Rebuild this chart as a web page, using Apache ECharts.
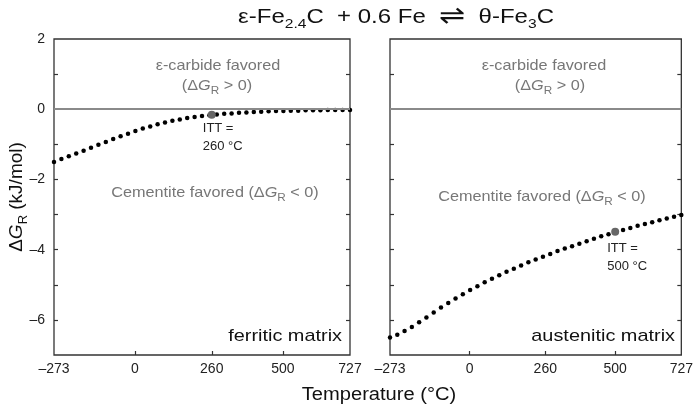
<!DOCTYPE html>
<html><head><meta charset="utf-8">
<script src="https://cdn.jsdelivr.net/npm/echarts@6/dist/echarts.min.js"></script>
<style>html,body{margin:0;padding:0;background:#fff}#c{width:696px;height:411px}</style>
</head><body><div id="c"></div>
<script>
// Temperature (°C) of each plotted point
const temps = [-273,-248,-223,-198,-173,-148,-123,-98,-73,-48,-23,2,27,52,77,102,127,152,177,202,227,252,277,302,327,352,377,402,427,452,477,502,527,552,577,602,627,652,677,702,727];
// ΔG_R (kJ/mol), ferritic matrix
const ferriticG = [-1.50,-1.42,-1.34,-1.26,-1.18,-1.10,-1.01,-0.93,-0.85,-0.77,-0.70,-0.62,-0.55,-0.49,-0.43,-0.38,-0.33,-0.29,-0.25,-0.22,-0.19,-0.17,-0.15,-0.13,-0.12,-0.10,-0.09,-0.08,-0.07,-0.06,-0.05,-0.05,-0.04,-0.04,-0.03,-0.03,-0.03,-0.02,-0.02,-0.02,-0.02];
// ΔG_R (kJ/mol), austenitic matrix
const austeniticG = [-6.50,-6.42,-6.32,-6.20,-6.07,-5.93,-5.79,-5.65,-5.52,-5.39,-5.27,-5.15,-5.04,-4.93,-4.83,-4.73,-4.63,-4.54,-4.45,-4.36,-4.28,-4.20,-4.12,-4.04,-3.97,-3.90,-3.83,-3.76,-3.69,-3.62,-3.56,-3.50,-3.44,-3.38,-3.32,-3.27,-3.22,-3.16,-3.11,-3.06,-3.01];
// ITT points
const ittT = [260, 500];
const ittG = [-0.16, -3.49];
// axes
const xTickLabels = [-273, 0, 260, 500, 727];
const xTicks = [0, 260, 500];
const yTickLabels = [2, 0, -2, -4, -6];
const yTicks = [1, -1, -2, -3, -4, -5, -6];

const FONT = '"Liberation Sans", Arial, Helvetica, sans-serif';
const dash = v => (v < 0 ? '\u2013' + Math.abs(v) : String(v));

function xAxisFor(gi) {
  return {
    type: 'value', gridIndex: gi, min: -273, max: 727, position: 'bottom',
    axisLine: { show: false, onZero: false },
    splitLine: { show: false },
    axisTick: { show: true, inside: true, length: 4, customValues: xTicks, lineStyle: { color: '#333', width: 1.2 } },
    axisLabel: { customValues: xTickLabels, formatter: dash, color: '#222', fontSize: 14, fontFamily: FONT, margin: 7 }
  };
}
function yAxisFor(gi, pos, labels) {
  return {
    type: 'value', gridIndex: gi, min: -7, max: 2, position: pos,
    axisLine: { show: false, onZero: false },
    splitLine: { show: false },
    axisTick: { show: true, inside: true, length: 4, customValues: yTicks, lineStyle: { color: '#333', width: 1.2 } },
    axisLabel: labels ? { customValues: yTickLabels, formatter: dash, color: '#222', fontSize: 14, fontFamily: FONT, margin: 9 } : { show: false }
  };
}

const zeroLine = {
  silent: true, symbol: 'none', label: { show: false },
  lineStyle: { color: '#8a8a8a', width: 2, type: 'solid', opacity: 1 },
  data: [{ yAxis: 0 }]
};

const dotStyle = { color: '#000', opacity: 1 };

const chart = echarts.init(document.getElementById('c'), null, { renderer: 'canvas' });
chart.setOption({
  animation: false,
  backgroundColor: '#fff',
  grid: [
    { left: 54, top: 39, width: 296, height: 316, show: true, borderColor: '#333', borderWidth: 1.3, backgroundColor: 'transparent' },
    { left: 390, top: 39, width: 295, height: 316, show: true, borderColor: '#333', borderWidth: 1.3, backgroundColor: 'transparent' }
  ],
  xAxis: [xAxisFor(0), xAxisFor(1)],
  yAxis: [yAxisFor(0, 'left', true), yAxisFor(0, 'right', false), yAxisFor(1, 'left', false), yAxisFor(1, 'right', false)],
  series: [
    {
      type: 'scatter', xAxisIndex: 0, yAxisIndex: 0, symbolSize: 4.5, itemStyle: dotStyle, z: 3,
      data: temps.map((t, i) => [t, ferriticG[i]]), markLine: zeroLine
    },
    {
      type: 'scatter', xAxisIndex: 1, yAxisIndex: 2, symbolSize: 4.5, itemStyle: dotStyle, z: 3,
      data: temps.map((t, i) => [t, austeniticG[i]]), markLine: zeroLine
    },
    {
      type: 'scatter', xAxisIndex: 0, yAxisIndex: 0, symbolSize: 8, itemStyle: { color: '#666', opacity: 1 }, z: 4,
      data: [[ittT[0], ittG[0]]],
      label: { show: true, position: [-5, 9], align: 'left', verticalAlign: 'top', lineHeight: 18,
        formatter: 'ITT =\n' + ittT[0] + ' \u00B0C', color: '#222', fontSize: 13, fontFamily: FONT }
    },
    {
      type: 'scatter', xAxisIndex: 1, yAxisIndex: 2, symbolSize: 8, itemStyle: { color: '#666', opacity: 1 }, z: 4,
      data: [[ittT[1], ittG[1]]],
      label: { show: true, position: [-4, 12], align: 'left', verticalAlign: 'top', lineHeight: 18,
        formatter: 'ITT =\n' + ittT[1] + ' \u00B0C', color: '#222', fontSize: 13, fontFamily: FONT }
    }
  ],
  graphic: (function () {
    const gray = '#777';
    const richSmall = {
      i: { fontStyle: 'italic', fontSize: 14.5, color: gray, fontFamily: FONT, lineHeight: 18 },
      s: { fontSize: 10.5, color: gray, fontFamily: FONT, lineHeight: 18, verticalAlign: 'bottom', padding: [0, 0, -2, 0] }
    };
    const t = (x, y, text, opts, sx) => ({
      type: 'text', x: x, y: y, silent: true, scaleX: sx || 1,
      style: Object.assign({ text: text, textAlign: 'center', textVerticalAlign: 'middle', fontFamily: FONT }, opts)
    });
    const grayOpts = { fontSize: 14.5, fill: gray, rich: richSmall, lineHeight: 18 };
    const SX = 1.12;
    return [
      t(396, 17, '\u03B5-Fe{s|2.4}C  + 0.6 Fe  {a|\u21CC}  \u03B8-Fe{s|3}C', {
        fontSize: 20, fill: '#111', lineHeight: 26,
        rich: {
          s: { fontSize: 13, fill: '#111', fontFamily: FONT, lineHeight: 26, verticalAlign: 'bottom', padding: [0, 0, -1, 0] },
          a: { fontSize: 26, fill: '#111', fontFamily: '"DejaVu Sans", sans-serif', lineHeight: 26 }
        }
      }, 1.2),
      t(218, 66, '\u03B5-carbide favored', grayOpts, SX),
      t(217, 86, '(\u0394{i|G}{s|R} > 0)', grayOpts, SX),
      t(544, 66, '\u03B5-carbide favored', grayOpts, SX),
      t(550, 86, '(\u0394{i|G}{s|R} > 0)', grayOpts, SX),
      t(215, 193, 'Cementite favored (\u0394{i|G}{s|R} < 0)', grayOpts, SX),
      t(542, 197, 'Cementite favored (\u0394{i|G}{s|R} < 0)', grayOpts, SX),
      t(342, 336, 'ferritic matrix', { fontSize: 17, fill: '#111', textAlign: 'right' }, 1.17),
      t(675, 336, 'austenitic matrix', { fontSize: 17, fill: '#111', textAlign: 'right' }, 1.17),
      t(379, 395, 'Temperature (\u00B0C)', { fontSize: 17.5, fill: '#111' }, 1.15),
      {
        type: 'text', x: 17, y: 197, rotation: Math.PI / 2, silent: true,
        style: {
          text: '\u0394{i|G}{s|R} (kJ/mol)', textAlign: 'center', textVerticalAlign: 'middle',
          fontFamily: FONT, fontSize: 19, fill: '#111', lineHeight: 22,
          rich: {
            i: { fontStyle: 'italic', fontSize: 19, fill: '#111', fontFamily: FONT, lineHeight: 22 },
            s: { fontSize: 13, fill: '#111', fontFamily: FONT, lineHeight: 22, verticalAlign: 'bottom', padding: [0, 0, -2, 0] }
          }
        }
      }
    ];
  })()
});
</script>
</body></html>
